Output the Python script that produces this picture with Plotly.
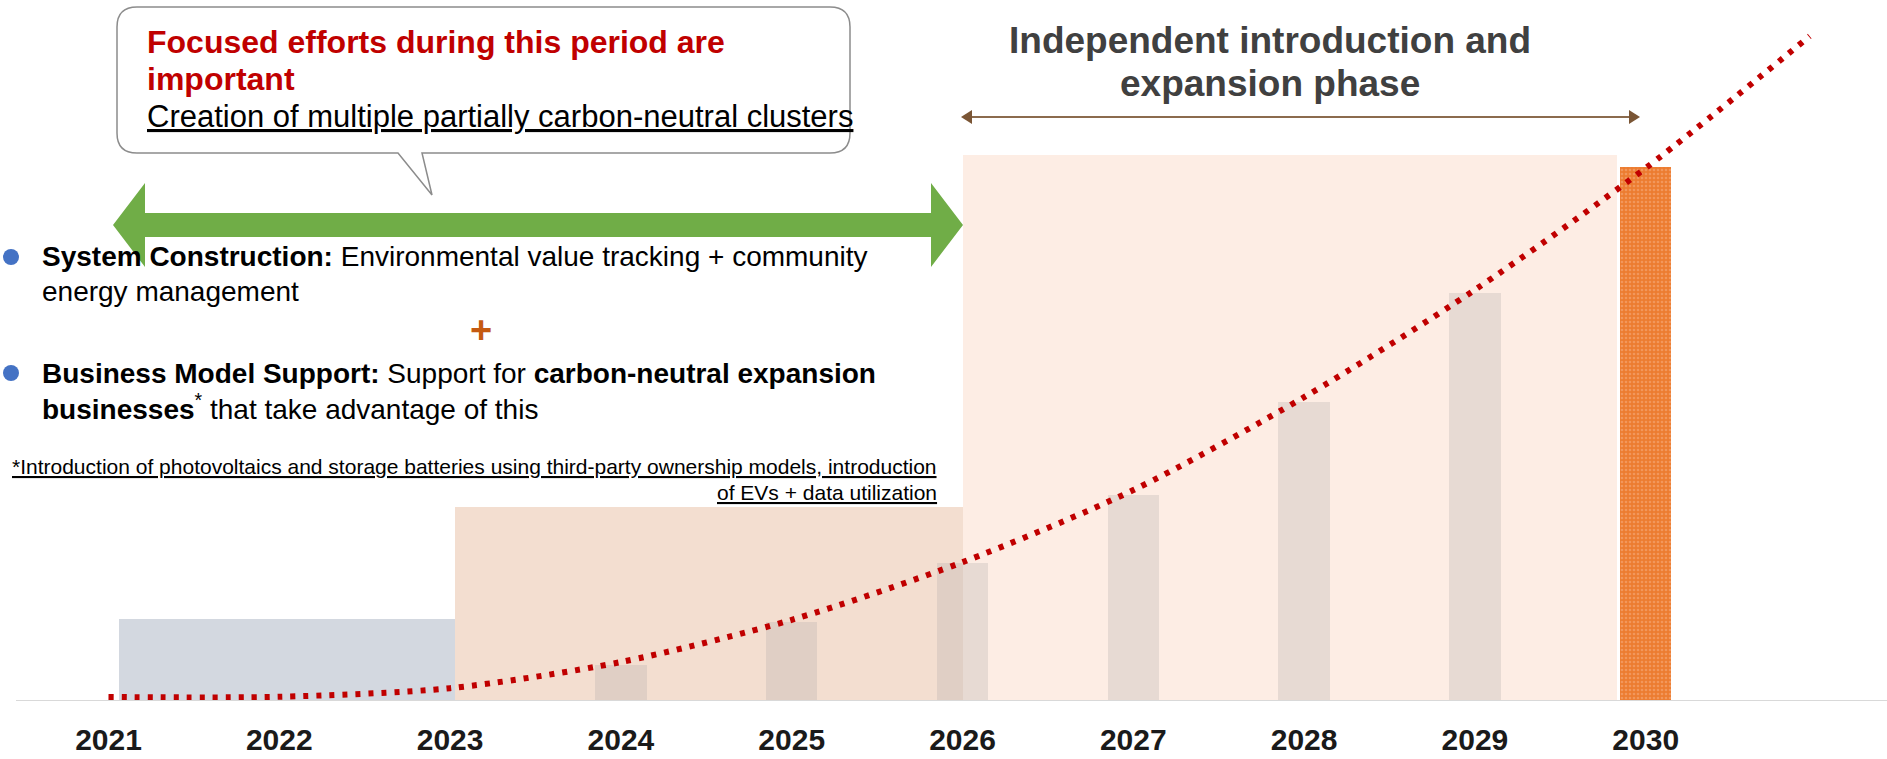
import plotly.graph_objects as go

# ---------------- data ----------------
years = [2021, 2022, 2023, 2024, 2025, 2026, 2027, 2028, 2029, 2030]
year_labels = [str(y) for y in years]

# phase bands (start year, end year, height)
band_start = [2021.06, 2023.03, 2026.00]
band_end = [2023.03, 2026.00, 2029.83]
band_height = [15.4, 36.3, 102.2]

# faint step bars
step_years = [2024, 2025, 2026, 2027, 2028, 2029]
step_values = [6.7, 14.8, 25.8, 38.6, 56.0, 76.4]

# 2030 target bar
target_year = [2030]
target_value = [100]

# dotted growth curve
curve_x = [2021, 2022, 2023, 2024, 2025, 2026, 2027, 2028, 2029, 2030, 2030.96]
curve_y = [0.75, 0.8, 2.4, 7.3, 15.2, 26.0, 39.5, 56.9, 77.0, 99.8, 124.5]

# ---------------- geometry helpers ----------------
W, H = 1887, 759
B = 58
PH = H - B
X0_PX, YEAR_PX = 108.5, 170.8
PX_PER_UNIT = 5.34
FONT = "Liberation Sans, Arial, sans-serif"


def X(px):
    return px / W


def Y(py):
    return 1 - py / PH


def year_of(px):
    return 2021 + (px - X0_PX) / YEAR_PX


band_colors = ["#D3D8E0", "#F3DED0", "#FDEDE4"]

fig = go.Figure()

fig.add_trace(go.Bar(
    x=[(s + e) / 2 for s, e in zip(band_start, band_end)],
    y=band_height,
    width=[e - s for s, e in zip(band_start, band_end)],
    marker=dict(color=band_colors, line=dict(width=0)),
    hoverinfo="skip", showlegend=False,
))
fig.add_trace(go.Bar(
    x=step_years, y=step_values, width=0.30,
    marker=dict(color="rgba(175,170,170,0.28)", line=dict(width=0)),
    hoverinfo="skip", showlegend=False,
))
fig.add_trace(go.Bar(
    x=target_year, y=target_value, width=0.30,
    marker=dict(color="#EC7C30", line=dict(width=0),
                pattern=dict(shape=".", size=4, solidity=0.35, fgcolor="#F7B286")),
    hoverinfo="skip", showlegend=False,
))
fig.add_trace(go.Scatter(
    x=curve_x, y=curve_y, mode="lines",
    line=dict(color="#C00000", width=6, dash="5px,8px", shape="spline", smoothing=0.8),
    hoverinfo="skip", showlegend=False, cliponaxis=False,
))

shapes = []
# baseline
shapes.append(dict(type="line", xref="x", yref="y", x0=year_of(16), x1=year_of(W), y0=0, y1=0,
                   line=dict(color="#D9D9D9", width=2), layer="above"))

# callout box with tail
l, r, t, b, rad = 117, 850, 7, 153, 20
p = (f"M {X(l+rad)},{Y(t)} L {X(r-rad)},{Y(t)} Q {X(r)},{Y(t)} {X(r)},{Y(t+rad)} "
     f"L {X(r)},{Y(b-rad)} Q {X(r)},{Y(b)} {X(r-rad)},{Y(b)} "
     f"L {X(422)},{Y(b)} L {X(432)},{Y(195)} L {X(398)},{Y(b)} "
     f"L {X(l+rad)},{Y(b)} Q {X(l)},{Y(b)} {X(l)},{Y(b-rad)} "
     f"L {X(l)},{Y(t+rad)} Q {X(l)},{Y(t)} {X(l+rad)},{Y(t)} Z")
shapes.append(dict(type="path", xref="paper", yref="paper", path=p,
                   fillcolor="white", line=dict(color="#8C8C8C", width=1.5)))

# green double arrow
ax0, ax1, cy = 113, 963, 225
hl, hh, sh = 32, 42, 12
gp = (f"M {X(ax0)},{Y(cy)} L {X(ax0+hl)},{Y(cy-hh)} L {X(ax0+hl)},{Y(cy-sh)} "
      f"L {X(ax1-hl)},{Y(cy-sh)} L {X(ax1-hl)},{Y(cy-hh)} L {X(ax1)},{Y(cy)} "
      f"L {X(ax1-hl)},{Y(cy+hh)} L {X(ax1-hl)},{Y(cy+sh)} L {X(ax0+hl)},{Y(cy+sh)} "
      f"L {X(ax0+hl)},{Y(cy+hh)} Z")
shapes.append(dict(type="path", xref="paper", yref="paper", path=gp,
                   fillcolor="#70AD47", line=dict(width=0)))

# brown thin double arrow
bx0, bx1, by = 961, 1640, 117
shapes.append(dict(type="line", xref="paper", yref="paper", x0=X(bx0 + 6), x1=X(bx1 - 6),
                   y0=Y(by), y1=Y(by), line=dict(color="#8B6B4E", width=2)))
for tip, d in [(bx0, 1), (bx1, -1)]:
    shapes.append(dict(type="path", xref="paper", yref="paper",
                       path=f"M {X(tip)},{Y(by)} L {X(tip + d*11)},{Y(by-7)} L {X(tip + d*11)},{Y(by+7)} Z",
                       fillcolor="#7A5535", line=dict(width=0)))

# bullet dots
for cyb in (257, 373):
    shapes.append(dict(type="circle", xref="paper", yref="paper",
                       x0=X(3), x1=X(19), y0=Y(cyb - 8), y1=Y(cyb + 8),
                       fillcolor="#4472C4", line=dict(width=0)))

ann = []


def text(px, py, s, size, color="#000000", anchor="left", under=False):
    f = dict(family=FONT, size=size, color=color)
    if under:
        f["lineposition"] = "under"
    ann.append(dict(x=X(px), y=Y(py), xref="paper", yref="paper", text=s, showarrow=False,
                    xanchor=anchor, yanchor="middle", font=f))


text(145, 42, "<b>Focused efforts during this period are</b>", 32, "#C00000")
text(145, 79, "<b>important</b>", 32, "#C00000")
text(145, 116, "Creation of multiple partially carbon-neutral clusters", 31, under=True)

text(40, 257, "<b>System Construction:</b> Environmental value tracking + community", 28)
text(40, 291, "energy management", 28)
text(481, 330, "<b>+</b>", 38, "#C55A11", anchor="center")
text(40, 374, "<b>Business Model Support:</b> Support for <b>carbon-neutral expansion</b>", 28)
text(40, 407, "<b>businesses</b><sup>*</sup> that take advantage of this", 28)

text(939, 466, "*Introduction of photovoltaics and storage batteries using third-party ownership models, introduction",
     21, anchor="right", under=True)
text(939, 492, "of EVs + data utilization", 21, anchor="right", under=True)

text(1270, 40, "<b>Independent introduction and</b>", 37, "#404040", anchor="center")
text(1270, 84, "<b>expansion phase</b>", 37, "#404040", anchor="center")

fig.update_layout(
    width=W, height=H,
    margin=dict(l=0, r=0, t=0, b=B, autoexpand=False),
    paper_bgcolor="white", plot_bgcolor="white",
    barmode="overlay", bargap=0,
    shapes=shapes, annotations=ann,
    xaxis=dict(range=[year_of(0), year_of(W)], tickvals=years, ticktext=year_labels,
               tickfont=dict(family=FONT, size=30, color="#1A1A1A", weight="bold"),
               ticks="outside", ticklen=12, tickcolor="rgba(0,0,0,0)", automargin=False,
               showgrid=False, zeroline=False, showline=False, fixedrange=True),
    yaxis=dict(range=[0, PH / PX_PER_UNIT], visible=False, fixedrange=True, automargin=False),
)

fig.write_html("out.html", config={"displayModeBar": False},
               post_script="document.body.style.margin='0';document.body.style.overflow='hidden';")
